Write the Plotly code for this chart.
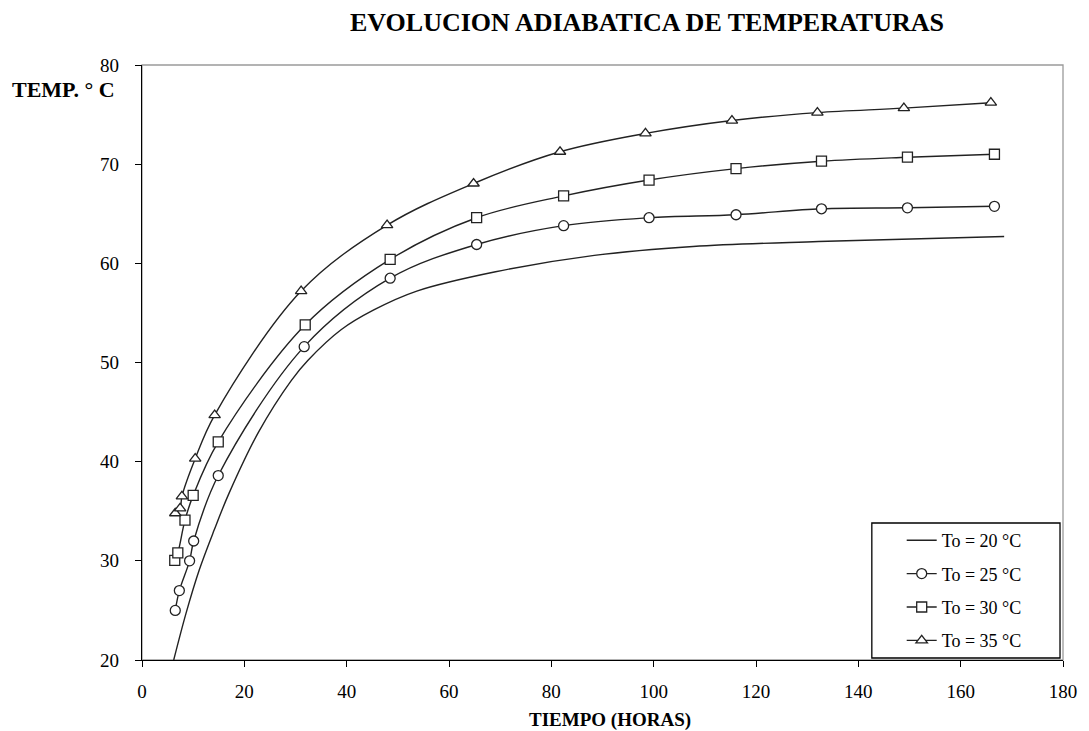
import plotly.graph_objects as go

# 20 °C curve (no markers)
t20_x = [6.2, 8.6, 11.2, 14.1, 17.0, 22.8, 29.2, 32.4, 38.9, 45.3, 53.7, 69.1, 88.4, 107.7, 132.2, 168.5]
t20_y = [20.0, 24.7, 29.1, 33.1, 36.8, 43.0, 48.2, 50.2, 53.3, 55.3, 57.2, 59.15, 60.8, 61.7, 62.2, 62.7]

t25_x = [6.5, 7.3, 9.3, 10.1, 14.9, 31.7, 48.5, 65.4, 82.4, 99.1, 116.1, 132.8, 149.6, 166.6]
t25_y = [25.0, 27.0, 30.0, 32.0, 38.6, 51.6, 58.5, 61.9, 63.8, 64.6, 64.9, 65.5, 65.6, 65.75]

t30_x = [6.4, 7.0, 8.4, 10.0, 14.9, 31.9, 48.5, 65.4, 82.4, 99.1, 116.1, 132.8, 149.6, 166.6]
t30_y = [30.05, 30.8, 34.1, 36.6, 42.0, 53.8, 60.4, 64.6, 66.8, 68.4, 69.55, 70.3, 70.7, 71.0]

t35_x = [6.5, 7.45, 7.8, 10.4, 14.2, 31.1, 47.9, 64.8, 81.7, 98.4, 115.3, 132.0, 148.9, 165.9]
t35_y = [34.8, 35.3, 36.5, 40.3, 44.7, 57.2, 63.85, 68.05, 71.25, 73.1, 74.4, 75.2, 75.65, 76.2]

names = ["To = 20 °C", "To = 25 °C", "To = 30 °C", "To = 35 °C"]
x_ticks = [0, 20, 40, 60, 80, 100, 120, 140, 160, 180]
y_ticks = [20, 30, 40, 50, 60, 70, 80]

FONT = "Liberation Serif"
LINE = "#222222"

# layout geometry (pixels)
W, H = 1089, 731
ML, MR, MT, MB = 142, 22, 65, 71
PW = W - ML - MR
PH = H - MT - MB


def px(x):
    return (x - ML) / PW


def py(y):
    return (H - MB - y) / PH


fig = go.Figure()
fig.add_trace(go.Scatter(x=t20_x, y=t20_y, mode="lines", name=names[0],
                         line=dict(color=LINE, width=1.4, shape="spline", smoothing=1.0),
                         legendgroup="a"))
for (xs, ys, nm, sym, g) in [(t25_x, t25_y, names[1], "circle", "b"),
                             (t30_x, t30_y, names[2], "square", "c"),
                             (t35_x, t35_y, names[3], "triangle-up", "d")]:
    fig.add_trace(go.Scatter(x=xs, y=ys, mode="lines+markers", name=nm, legendgroup=g,
                             line=dict(color=LINE, width=1.4, shape="spline", smoothing=1.0),
                             marker=dict(symbol=sym, size=10,
                                         color="white", line=dict(color=LINE, width=1.3))))

fig.update_layout(
    width=W, height=H,
    margin=dict(l=ML, r=MR, t=MT, b=MB),
    paper_bgcolor="white", plot_bgcolor="white",
    font=dict(family=FONT, color="black", size=16),
    showlegend=True,
    legend=dict(x=px(905), y=py(522), xanchor="left", yanchor="top",
                bgcolor="rgba(0,0,0,0)", borderwidth=0,
                font=dict(family=FONT, size=18, color="black"),
                tracegroupgap=7, itemwidth=30),
    xaxis=dict(range=[0, 180], tickvals=x_ticks, ticks="outside", ticklen=6,
               tickcolor="black", showline=True, linecolor="black", linewidth=1.2,
               showgrid=False, zeroline=False, ticklabelstandoff=8,
               ticklabeloverflow="allow",
               tickfont=dict(family=FONT, size=19, color="black")),
    yaxis=dict(range=[20, 80], tickvals=y_ticks, ticks="outside", ticklen=6,
               tickcolor="black", showline=True, linecolor="black", linewidth=1.2,
               showgrid=False, zeroline=False, ticklabelstandoff=12,
               tickfont=dict(family=FONT, size=19, color="black")),
    shapes=[
        dict(type="rect", xref="paper", yref="paper", x0=0, x1=1, y0=0, y1=1,
             line=dict(color="#9a9a9a", width=1.3), layer="below"),
        dict(type="rect", xref="paper", yref="paper",
             x0=px(875), x1=px(1064), y0=py(658), y1=py(523),
             line=dict(color="black", width=1.3), fillcolor="white", layer="above"),
    ],
    annotations=[
        dict(text="<b>EVOLUCION ADIABATICA DE TEMPERATURAS</b>", xref="paper", yref="paper",
             x=px(649), y=py(22), xanchor="center", yanchor="middle",
             showarrow=False, font=dict(family=FONT, size=26, color="black")),
        dict(text="<b>TEMP. ° C</b>", xref="paper", yref="paper",
             x=px(63), y=py(90), xanchor="center", yanchor="middle",
             showarrow=False, font=dict(family=FONT, size=22, color="black")),
        dict(text="<b>TIEMPO (HORAS)</b>", xref="paper", yref="paper",
             x=px(612), y=py(720), xanchor="center", yanchor="middle",
             showarrow=False, font=dict(family=FONT, size=19, color="black")),
    ],
)

fig.write_html("out.html")
